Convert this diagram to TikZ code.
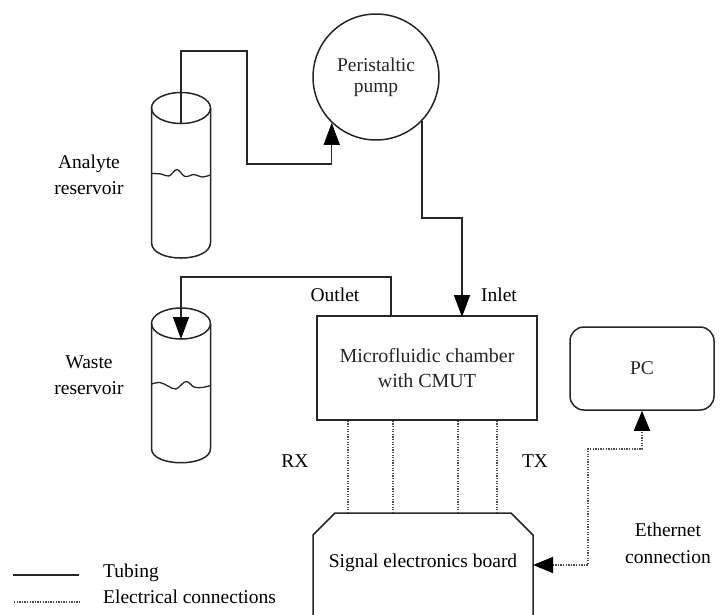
\documentclass[tikz,border=0pt]{standalone}
\usepackage{fontspec}
\setmainfont{Liberation Serif}
\usetikzlibrary{arrows.meta,calc}
\begin{document}
\begin{tikzpicture}[x=1pt,y=-1pt,
  tube/.style={line width=1.5pt, black!85},
  elec/.style={line width=1.6pt, black!70, dash pattern=on 1.3pt off 1.3pt},
  tip/.style={-{Triangle[length=22pt,width=16pt,color=black]}},
  tips/.style={{Triangle[length=20pt,width=16pt,color=black]}-{Triangle[length=20pt,width=16pt,color=black]}},
  lbl/.style={font=\fontsize{19.5}{26}\selectfont, align=center, inner sep=0pt},
  box/.style={draw, line width=1.5pt, black!85}]
\useasboundingbox (0,0) rectangle (721,614);

% analyte reservoir
\draw[tube] (181,108) ellipse [x radius=29.5, y radius=15.5];
\draw[tube] (151.5,108) -- (151.5,242.5) .. controls (151.5,263.2) and (210.5,263.2) .. (210.5,242.5) -- (210.5,108);
\draw[tube, line width=1.3pt] plot[smooth, tension=0.6] coordinates {(151.5,173.5) (161,174) (169,176) (177,169.5) (185,176.5) (194,174.5) (202,177) (210.5,175)};
\coordinate (atop) at (181,124);
\node[lbl] (alab) at (89,175) {Analyte\\reservoir};

% waste reservoir
\draw[tube] (181,323.5) ellipse [x radius=29.5, y radius=15.5];
\draw[tube] (151.5,323.5) -- (151.5,448.5) .. controls (151.5,467.5) and (210.5,467.5) .. (210.5,448.5) -- (210.5,323.5);
\draw[tube, line width=1.3pt] plot[smooth, tension=0.6] coordinates {(151.5,384) (160,382.5) (168,386) (176,389) (186,381.5) (194,387) (202,387.5) (210.5,385.5)};
\coordinate (wtop) at (181,339);
\node[lbl] (wlab) at (89,375) {Waste\\reservoir};

% pump
\node[box, circle, minimum size=126pt, inner sep=0pt, lbl, font=\fontsize{19.5}{21}\selectfont] (pump) at (376,77) {Peristaltic\\pump};

% chamber
\node[box, rectangle, minimum width=220pt, minimum height=104pt, lbl, font=\fontsize{20}{25}\selectfont] (chamber) at (427,368) {Microfluidic chamber\\with CMUT};
\coordinate (inlet) at (462,317);
\coordinate (outlet) at (391,317);
\node[lbl] (outl) at (335,295) {Outlet};
\node[lbl] (inl) at (499,295) {Inlet};

% tubing
\draw[tube, tip] (atop) |- (247,51) -- (247,164) -| (pump.226);
\draw[tube, tip] (pump.-44) |- (462,218) -- (inlet);
\draw[tube, tip] (outlet) -- (391,277) -| (wtop);

% signal electronics board
\draw[box] (313,620) -- (313,535) -- (335,513) -- (511,513) -- (533,535) -- (533,620);
\node[lbl] (board) at (423,563) {Signal electronics board};
\coordinate (btop) at (423,513);
\coordinate (beast) at (533,565);

% electrical connections
\draw[elec] ($(chamber.south west)+(32,0)$) coordinate (c1) -- (c1 |- btop);
\draw[elec] ($(chamber.south west)+(77,0)$) coordinate (c2) -- (c2 |- btop);
\draw[elec] ($(chamber.south west)+(142,0)$) coordinate (c3) -- (c3 |- btop);
\draw[elec] ($(chamber.south west)+(181,0)$) coordinate (c4) -- (c4 |- btop);
\node[lbl] (rx) at (295,461) {RX};
\node[lbl] (tx) at (535,461) {TX};

% PC
\node[box, rectangle, rounded corners=14pt, minimum width=144pt, minimum height=83pt, lbl] (pc) at (642,368.5) {PC};
\draw[elec, tips] (beast) -| (588,449) -| (pc.south);
\node[lbl, font=\fontsize{19.5}{27}\selectfont] (eth) at (668,543.5) {Ethernet\\connection};

% legend
\coordinate (l1a) at (13,575);
\coordinate (l1b) at (79,575);
\coordinate (l2a) at (14,602);
\coordinate (l2b) at (80,602);
\draw[tube] (l1a) -- (l1b);
\draw[elec] (l2a) -- (l2b);
\node[lbl, anchor=west] (tubing) at (103,573) {Tubing};
\node[lbl, anchor=west] (electrical) at (103,597) {Electrical connections};
\end{tikzpicture}
\end{document}
